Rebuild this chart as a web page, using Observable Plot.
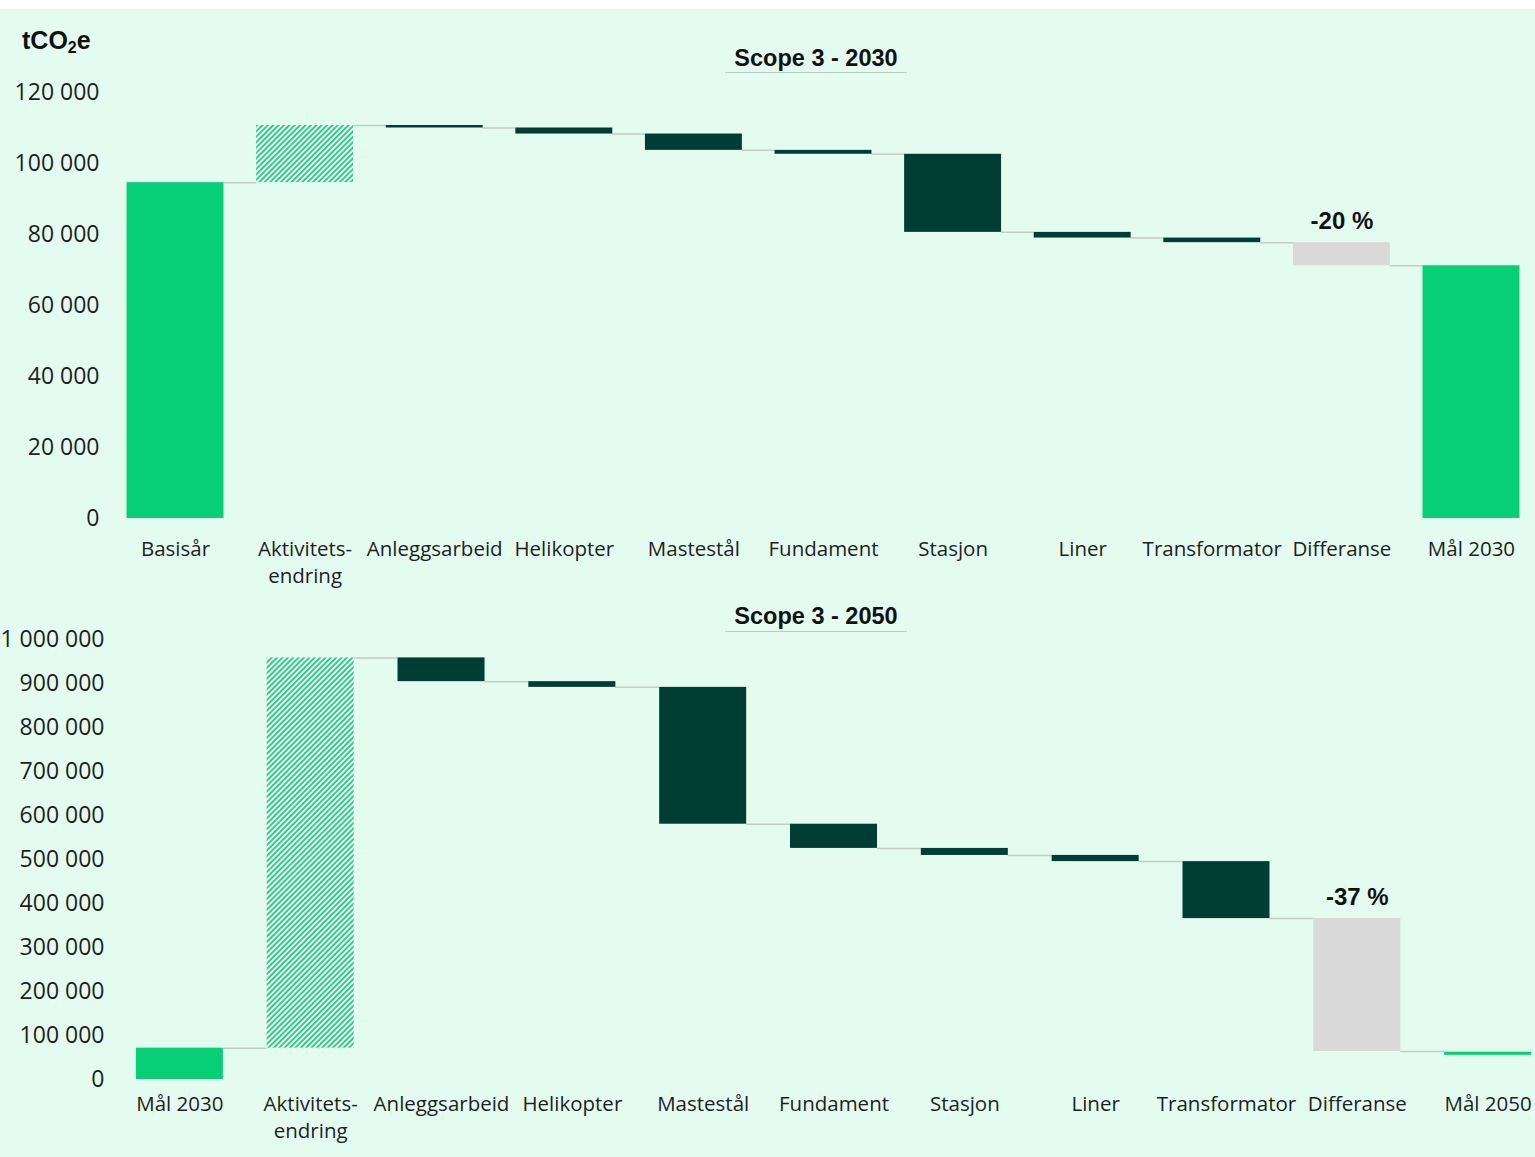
<!DOCTYPE html>
<html><head><meta charset="utf-8">
<script src="https://cdn.jsdelivr.net/npm/d3@7"></script>
<script src="https://cdn.jsdelivr.net/npm/@observablehq/plot@0.6"></script>
<style>
html,body{margin:0;padding:0;background:#fff;}
#wrap{position:relative;width:1535px;height:1157px;overflow:hidden;background:#fff;}
#mint{position:absolute;left:0;top:9px;right:0;bottom:0;background:#e3fcef;}
.title{position:absolute;left:725px;width:182px;text-align:center;font:bold 23.5px "Liberation Sans",Arial,sans-serif;line-height:26px;color:#111;border-bottom:1.5px solid #b9cbc2;}
.unit{position:absolute;left:22px;top:26px;font:bold 25px "Liberation Sans",Arial,sans-serif;line-height:28px;color:#111;}
.unit sub{font-size:16px;vertical-align:-4px;line-height:0;}
.panel{position:absolute;left:0;}
.panel svg{max-width:none !important;}
</style></head>
<body>
<div id="wrap">
  <div id="mint"></div>
  <div class="unit">tCO<sub>2</sub>e</div>
  <div class="title" style="top:45px;padding-bottom:1px;">Scope 3 - 2030</div>
  <div class="title" style="top:603px;padding-bottom:2px;">Scope 3 - 2050</div>
  <div class="panel" id="p1" style="top:80px;width:1535px;"></div>
  <div class="panel" id="p2" style="top:627px;width:1556px;"></div>
</div>
<script>
// ---- Data: Scope 3 - 2030 ----
const cats2030 = ["Basisår","Aktivitets-\nendring","Anleggsarbeid","Helikopter","Mastestål","Fundament","Stasjon","Liner","Transformator","Differanse","Mål 2030"];
const kind2030 = ["total","activity","change","change","change","change","change","change","change","diff","total"];
const from2030 = [0, 94600, 110700, 110000, 108300, 103700, 102600, 80600, 79000, 77700, 0];
const to2030   = [94600, 110700, 110000, 108300, 103700, 102600, 80600, 79000, 77700, 71200, 71200];
const ticks2030 = [0, 20000, 40000, 60000, 80000, 100000, 120000];
const pct2030 = "-20 %";

// ---- Data: Scope 3 - 2050 ----
const cats2050 = ["Mål 2030","Aktivitets-\nendring","Anleggsarbeid","Helikopter","Mastestål","Fundament","Stasjon","Liner","Transformator","Differanse","Mål 2050"];
const kind2050 = ["total","activity","change","change","change","change","change","change","change","diff","total"];
const from2050 = [0, 71200, 958200, 904200, 891200, 580200, 525200, 509200, 495200, 365700, 55000];
const to2050   = [71200, 958200, 904200, 891200, 580200, 525200, 509200, 495200, 365700, 63700, 62000];
const ticks2050 = [0,100000,200000,300000,400000,500000,600000,700000,800000,900000,1000000];
const pct2050 = "-37 %";

const colors = {total:"#06cf75", change:"#003d33", diff:"#d9d9d9"};
const fmt = d3.formatLocale({decimal:",", thousands:"\u00a0", grouping:[3], currency:["","kr"]}).format(",d");

function panel({cats, kind, from, to, ticks, pct, width, height, ml, pi, po, mt, mb, ytop, tickPad, xPad, id}) {
  const rows = cats.map((c, i) => ({cat: c, kind: kind[i], y1: from[i], y2: to[i]}));
  const links = cats.slice(0, -1).map((c, i) => ({a: c, b: cats[i + 1], v: to[i]}));
  const bw = d3.scaleBand().domain(cats).range([ml, width]).paddingInner(pi).paddingOuter(po).bandwidth();
  const diffIdx = kind.indexOf("diff");
  const svg = Plot.plot({
    width, height, marginLeft: ml, marginRight: 0, marginTop: mt, marginBottom: mb,
    style: {fontFamily: "'Open Sans', sans-serif", color: "#1e1e1e", background: "transparent", overflow: "visible", maxWidth: "none"},
    x: {domain: cats, paddingInner: pi, paddingOuter: po, round: false},
    y: {domain: [0, ytop]},
    marks: [
      Plot.ruleY(links, {x1: "a", x2: "b", y: "v", insetLeft: bw, insetRight: bw, stroke: "#c3ccc7", strokeWidth: 1.5}),
      Plot.barY(rows.filter(d => d.kind !== "activity"), {x: "cat", y1: "y1", y2: "y2", fill: d => colors[d.kind]}),
      Plot.barY(rows.filter(d => d.kind === "activity"), {x: "cat", y1: "y1", y2: "y2", fill: `url(#hatch-${id})`}),
      Plot.text([{cat: cats[diffIdx], v: Math.max(from[diffIdx], to[diffIdx])}], {x: "cat", y: "v", text: () => pct, dy: -21, fontSize: 24, fontWeight: "bold", fontFamily: "'Liberation Sans', Arial, sans-serif", fill: "#111"}),
      Plot.axisY({ticks, tickFormat: fmt, tickSize: 0, tickPadding: tickPad, fontSize: 23, label: null}),
      Plot.axisX({tickSize: 0, tickPadding: xPad, fontSize: 20.5, lineHeight: 1.3, label: null})
    ],
    color: {type: "identity"}
  });
  svg.style.maxWidth = "none";
  const defs = d3.select(svg).insert("defs", ":first-child");
  const pat = defs.append("pattern").attr("id", `hatch-${id}`).attr("patternUnits", "userSpaceOnUse")
    .attr("width", 3.8).attr("height", 3.8).attr("patternTransform", "rotate(45)");
  pat.append("rect").attr("width", 3.8).attr("height", 3.8).attr("fill", "#effdf6");
  pat.append("rect").attr("width", 1.9).attr("height", 3.8).attr("fill", "#2ccc86");
  return svg;
}

document.getElementById("p1").appendChild(panel({
  cats: cats2030, kind: kind2030, from: from2030, to: to2030, ticks: ticks2030, pct: pct2030,
  width: 1535, height: 515, ml: 111, pi: 0.252, po: 0.12, mt: 12, mb: 77, ytop: 120000, tickPad: 12, xPad: 19, id: "a"
}));
document.getElementById("p2").appendChild(panel({
  cats: cats2050, kind: kind2050, from: from2050, to: to2050, ticks: ticks2050, pct: pct2050,
  width: 1556, height: 530, ml: 111, pi: 0.335, po: 0.19, mt: 12, mb: 78, ytop: 1000000, tickPad: 7, xPad: 13, id: "b"
}));
</script>
</body></html>
